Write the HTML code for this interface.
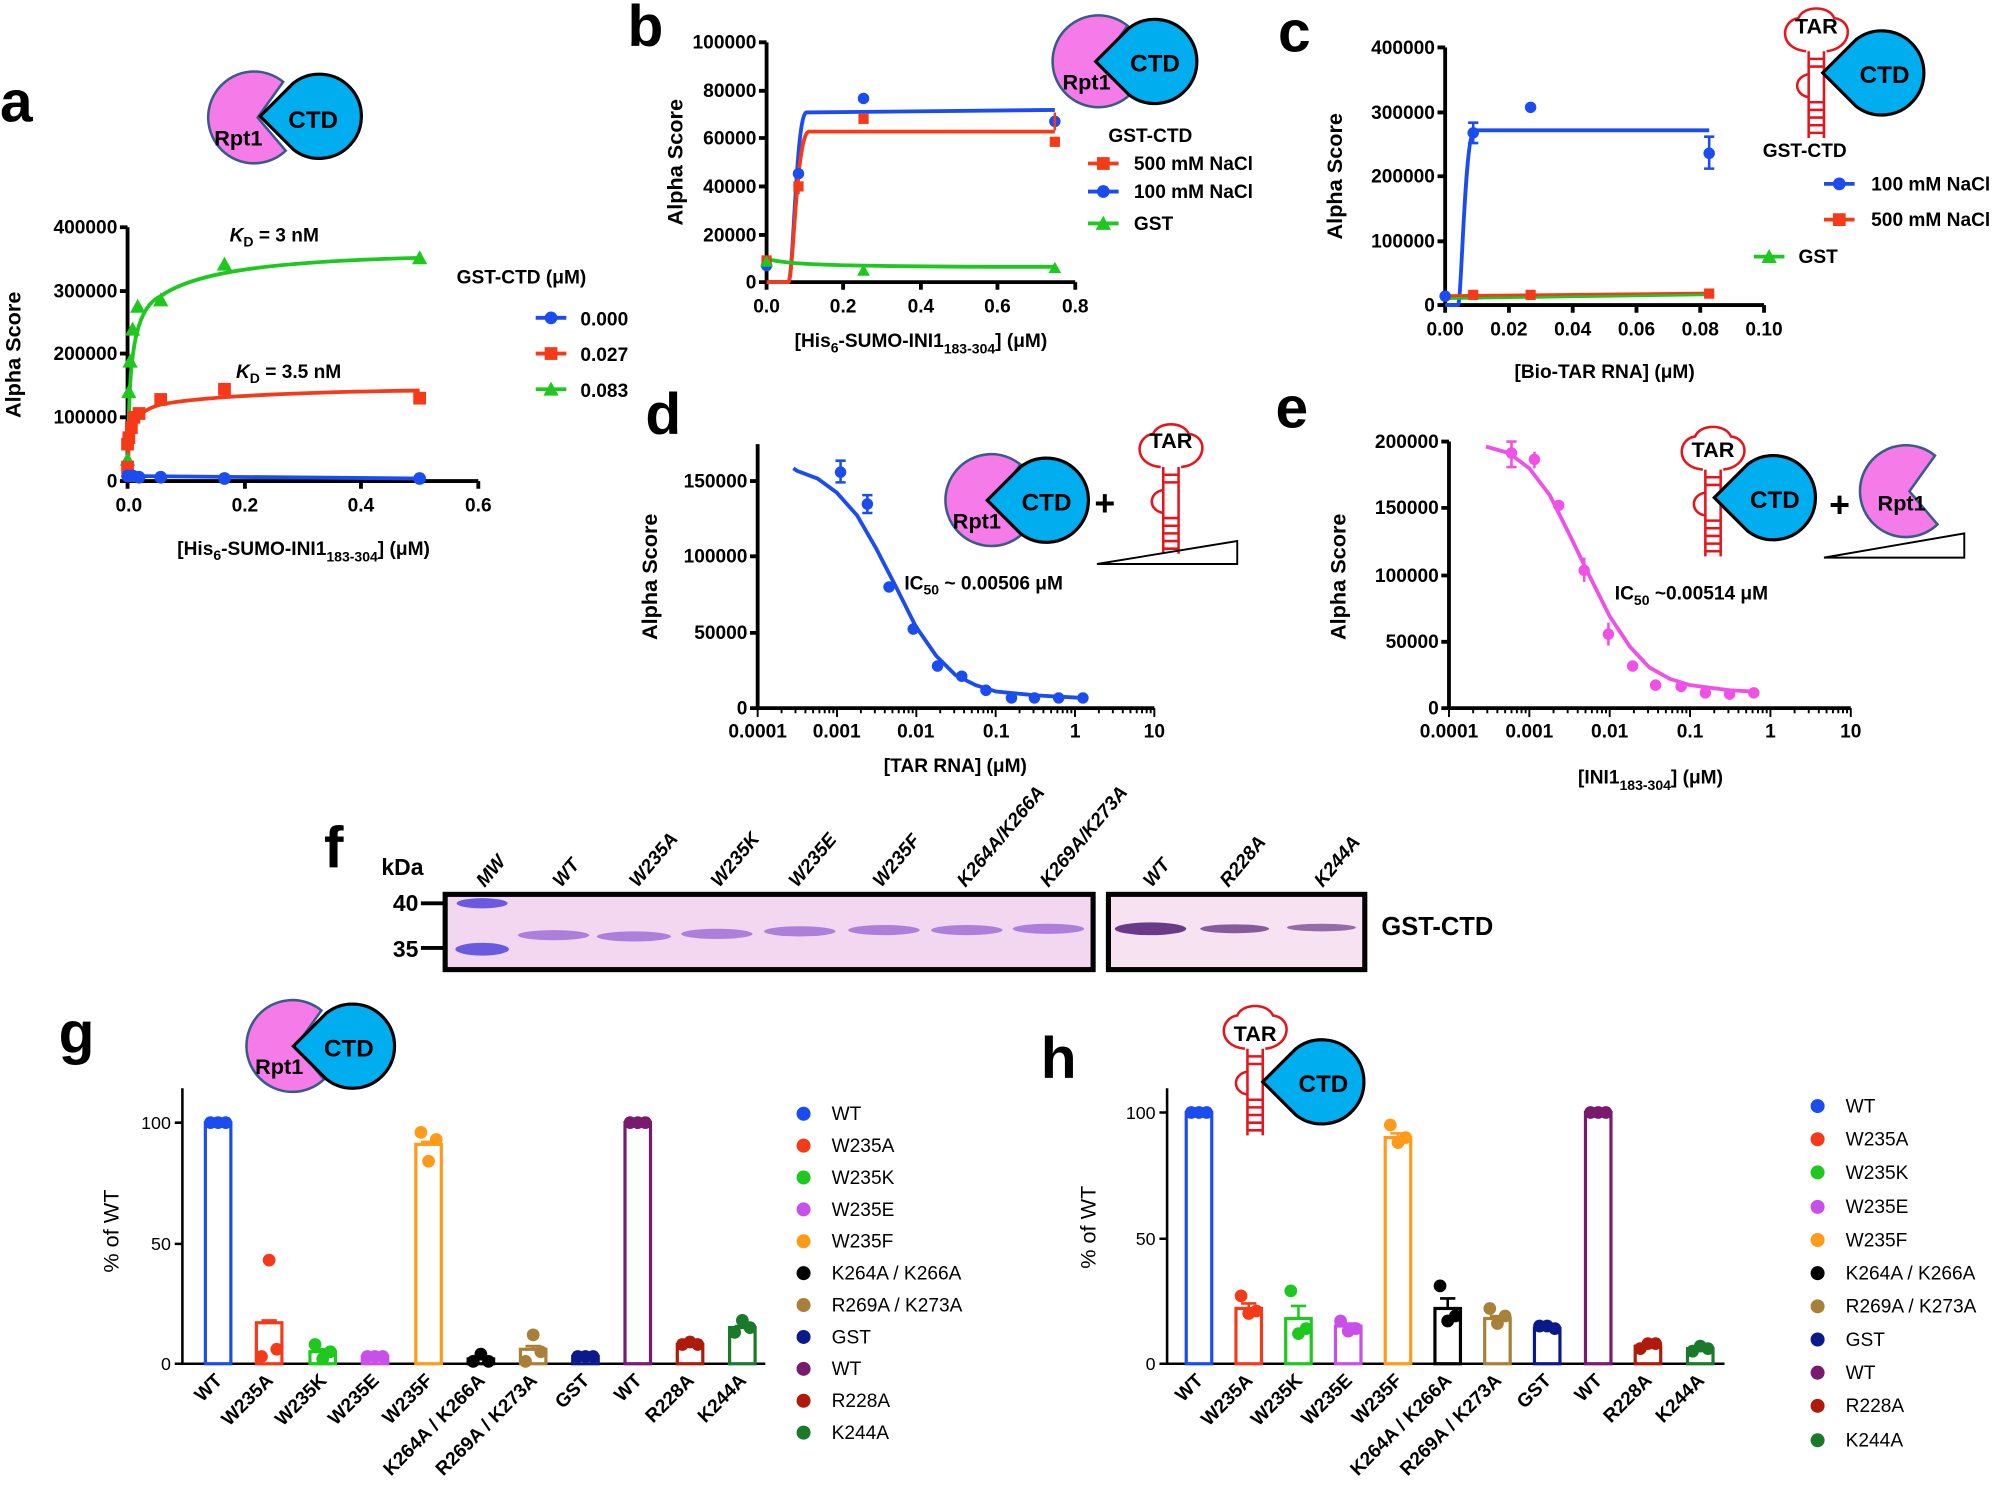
<!DOCTYPE html>
<html><head><meta charset="utf-8"><style>
html,body{margin:0;padding:0;background:#fff}
svg{display:block}
text{font-family:"Liberation Sans",Arial,sans-serif}
.t{font-size:15px;font-weight:bold}
.ax{stroke:#000;stroke-width:3;fill:none}
.L{font-size:46px;font-weight:bold}
.lg{font-size:15px}
</style></head><body>
<svg id="s" width="2000" height="1503" viewBox="0 0 1568 1178" xmlns="http://www.w3.org/2000/svg">
<defs>
<path id="pac" d="M22,-28 A36,36 0 1 0 24,26 L2,0 Z" fill="#f47be8" stroke="#3a5a8a" stroke-width="2"/>
<path id="ctd" d="M-46,0 L-20,-26 A33,33 0 1 1 -20,26 Z" fill="#00aeef" stroke="#000" stroke-width="2.5"/>
<g id="tar" fill="none" stroke="#e8141c" stroke-width="2">
<path d="M-8,22 C-30,20 -28,-2 -14,-4 C-10,-14 10,-14 14,-4 C30,-2 28,20 8,22"/>
<path d="M-6,22 V90 M6,22 V90 M-6,40 C-18,42 -18,56 -6,58"/>
<path d="M-6,28 H6 M-6,34 H6 M-6,62 H6 M-6,68 H6 M-6,74 H6 M-6,80 H6 M-6,86 H6"/>
</g>
</defs>

<text class="L" x="0" y="95">a</text>
<text class="L" x="492" y="36">b</text>
<text class="L" x="1002" y="40">c</text>
<text class="L" x="506" y="340">d</text>
<text class="L" x="1000" y="335">e</text>
<text class="L" x="254" y="680">f</text>
<text class="L" x="46" y="825">g</text>
<text class="L" x="816" y="845">h</text>

<!-- ===== a ===== -->
<use href="#pac" x="200" y="92"/><use href="#ctd" x="250" y="91"/>
<text x="168" y="114" style="font-size:17px;font-weight:bold">Rpt1</text>
<text x="226" y="100" style="font-size:19px;font-weight:bold">CTD</text>
<path class="ax" d="M100,178 V377 H375"/>
<path class="ax" d="M94,178H100M94,228H100M94,277H100M94,327H100M94,377H100M100,377V383M192,377V383M283,377V383M375,377V383" stroke-width="2"/>
<g class="t" text-anchor="end"><text x="92" y="183">400000</text><text x="92" y="233">300000</text><text x="92" y="282">200000</text><text x="92" y="332">100000</text><text x="92" y="382">0</text></g>
<g class="t" text-anchor="middle"><text x="101" y="401">0.0</text><text x="192" y="401">0.2</text><text x="283" y="401">0.4</text><text x="375" y="401">0.6</text></g>
<text class="t" x="238" y="435" text-anchor="middle">[His<tspan font-size="11" dy="4">6</tspan><tspan dy="-4">-SUMO-INI1</tspan><tspan font-size="11" dy="5">183-304</tspan><tspan dy="-5">] (μM)</tspan></text>
<text class="t" transform="translate(16,278) rotate(-90)" text-anchor="middle" style="font-size:17px">Alpha Score</text>
<text class="t" x="180" y="189"><tspan font-style="italic">K</tspan><tspan font-size="11" dy="4">D</tspan><tspan dy="-4"> = 3 nM</tspan></text>
<text class="t" x="185" y="296"><tspan font-style="italic">K</tspan><tspan font-size="11" dy="4">D</tspan><tspan dy="-4"> = 3.5 nM</tspan></text>
<path d="M100,377 L101,330 C102,270 108,240 126,232 C150,215 200,205 329,202" stroke="#1ec81e" stroke-width="3" fill="none"/>
<path d="M100,377 L101,345 C104,330 108,322 126,317 C160,310 250,307 329,306" stroke="#f53a1a" stroke-width="3" fill="none"/>
<path d="M100,373 L329,375" stroke="#1a4cf0" stroke-width="3" fill="none"/>
<g id="aPts"></g>
<text class="t" x="358" y="222">GST-CTD (μM)</text>
<path d="M420,249H444" stroke="#1a4cf0" stroke-width="3"/><circle cx="432" cy="249" r="5" fill="#1a4cf0"/>
<path d="M420,277H444" stroke="#f53a1a" stroke-width="3"/><rect x="427" y="272" width="10" height="10" fill="#f53a1a"/>
<path d="M420,305H444" stroke="#1ec81e" stroke-width="3"/><path d="M432,299 L438,310 H426Z" fill="#1ec81e"/>
<g class="t"><text x="455" y="255">0.000</text><text x="455" y="283">0.027</text><text x="455" y="311">0.083</text></g>

<!-- ===== b ===== -->
<use href="#pac" x="862" y="48"/><use href="#ctd" x="905" y="48"/>
<text x="833" y="70" style="font-size:17px;font-weight:bold">Rpt1</text>
<text x="886" y="56" style="font-size:19px;font-weight:bold">CTD</text>
<path class="ax" d="M601,33 V221 H843"/>
<path class="ax" stroke-width="2" d="M595,33H601M595,71H601M595,108H601M595,146H601M595,184H601M595,221H601M601,221V227M661,221V227M722,221V227M782,221V227M843,221V227"/>
<g class="t" text-anchor="end"><text x="593" y="38">100000</text><text x="593" y="76">80000</text><text x="593" y="113">60000</text><text x="593" y="151">40000</text><text x="593" y="189">20000</text><text x="593" y="226">0</text></g>
<g class="t" text-anchor="middle"><text x="601" y="245">0.0</text><text x="661" y="245">0.2</text><text x="722" y="245">0.4</text><text x="782" y="245">0.6</text><text x="843" y="245">0.8</text></g>
<text class="t" x="722" y="272" text-anchor="middle">[His<tspan font-size="11" dy="4">6</tspan><tspan dy="-4">-SUMO-INI1</tspan><tspan font-size="11" dy="5">183-304</tspan><tspan dy="-5">] (μM)</tspan></text>
<text class="t" transform="translate(535,127) rotate(-90)" text-anchor="middle" style="font-size:17px">Alpha Score</text>
<path d="M601,221 L618,221 C622,221 624,90 632,88 L827,86" stroke="#1a4cf0" stroke-width="3" fill="none"/>
<path d="M601,221 L618,221 C622,221 624,105 634,103 L827,103" stroke="#f53a1a" stroke-width="3" fill="none"/>
<path d="M601,203 C620,207 640,209 827,209" stroke="#1ec81e" stroke-width="3" fill="none"/>
<g fill="#1a4cf0"><circle cx="601" cy="208" r="4.5"/><circle cx="626" cy="136" r="4.5"/><circle cx="677" cy="77" r="4.5"/><circle cx="827" cy="95" r="4.5"/></g>
<g fill="#f53a1a"><rect x="597" y="200" width="8" height="8"/><rect x="622" y="142" width="8" height="8"/><rect x="673" y="89" width="8" height="8"/><rect x="823" y="107" width="8" height="8"/></g>
<g fill="#1ec81e"><path d="M601,200l5,9h-10z"/><path d="M677,207l5,9h-10z"/><path d="M827,205l5,9h-10z"/></g>
<path d="M626,140V152M827,88V102" stroke="#f53a1a" stroke-width="2"/>
<text class="t" x="869" y="111">GST-CTD</text>
<path d="M853,128H877" stroke="#f53a1a" stroke-width="3"/><rect x="860" y="123" width="10" height="10" fill="#f53a1a"/>
<path d="M853,150H877" stroke="#1a4cf0" stroke-width="3"/><circle cx="865" cy="150" r="5" fill="#1a4cf0"/>
<path d="M853,175H877" stroke="#1ec81e" stroke-width="3"/><path d="M865,169l6,11h-12z" fill="#1ec81e"/>
<g class="t"><text x="889" y="133">500 mM NaCl</text><text x="889" y="155">100 mM NaCl</text><text x="889" y="180">GST</text></g>

<!-- ===== c ===== -->
<use href="#tar" x="1424" y="18"/>
<text x="1424" y="26" text-anchor="middle" style="font-size:17px;font-weight:bold">TAR</text>
<use href="#ctd" x="1475" y="57"/>
<text x="1458" y="65" style="font-size:19px;font-weight:bold">CTD</text>
<path class="ax" d="M1133,37 V239 H1383"/>
<path class="ax" stroke-width="2" d="M1127,37H1133M1127,88H1133M1127,138H1133M1127,189H1133M1127,239H1133M1133,239V245M1183,239V245M1233,239V245M1283,239V245M1333,239V245M1383,239V245"/>
<g class="t" text-anchor="end"><text x="1125" y="42">400000</text><text x="1125" y="93">300000</text><text x="1125" y="143">200000</text><text x="1125" y="194">100000</text><text x="1125" y="244">0</text></g>
<g class="t" text-anchor="middle"><text x="1133" y="263">0.00</text><text x="1183" y="263">0.02</text><text x="1233" y="263">0.04</text><text x="1283" y="263">0.06</text><text x="1333" y="263">0.08</text><text x="1383" y="263">0.10</text></g>
<text class="t" x="1258" y="296" text-anchor="middle">[Bio-TAR RNA] (μM)</text>
<text class="t" transform="translate(1052,138) rotate(-90)" text-anchor="middle" style="font-size:17px">Alpha Score</text>
<path d="M1133,239 L1143,239 C1146,239 1148,104 1156,102 L1340,102" stroke="#1a4cf0" stroke-width="3" fill="none"/>
<path d="M1133,232 L1340,230" stroke="#f53a1a" stroke-width="3" fill="none"/>
<path d="M1133,234 L1340,231" stroke="#1ec81e" stroke-width="2" fill="none"/>
<g fill="#1a4cf0"><circle cx="1133" cy="232" r="4.5"/><circle cx="1155" cy="104" r="4.5"/><circle cx="1200" cy="84" r="4.5"/><circle cx="1340" cy="120" r="4.5"/></g>
<path d="M1155,96V112M1151,96H1159M1151,112H1159M1340,107V132M1336,107H1344M1336,132H1344" stroke="#1a4cf0" stroke-width="2"/>
<g fill="#f53a1a"><rect x="1151" y="227" width="8" height="8"/><rect x="1196" y="227" width="8" height="8"/><rect x="1336" y="226" width="8" height="8"/></g>
<text class="t" x="1382" y="123">GST-CTD</text>
<path d="M1430,144H1454" stroke="#1a4cf0" stroke-width="3"/><circle cx="1442" cy="144" r="5" fill="#1a4cf0"/>
<path d="M1430,172H1454" stroke="#f53a1a" stroke-width="3"/><rect x="1437" y="167" width="10" height="10" fill="#f53a1a"/>
<path d="M1375,201H1399" stroke="#1ec81e" stroke-width="3"/><path d="M1387,195l6,11h-12z" fill="#1ec81e"/>
<g class="t"><text x="1467" y="149">100 mM NaCl</text><text x="1467" y="177">500 mM NaCl</text><text x="1410" y="206">GST</text></g>

<!-- ===== d ===== -->
<use href="#pac" x="778" y="392"/><use href="#ctd" x="820" y="392"/>
<text x="747" y="414" style="font-size:17px;font-weight:bold">Rpt1</text>
<text x="801" y="400" style="font-size:19px;font-weight:bold">CTD</text>
<text x="858" y="404" style="font-size:28px;font-weight:bold">+</text>
<use href="#tar" x="918" y="344"/>
<text x="918" y="351" text-anchor="middle" style="font-size:17px;font-weight:bold">TAR</text>
<path d="M860,442 L970,424 V442 Z" fill="none" stroke="#000" stroke-width="1.5"/>
<path class="ax" d="M594,348 V555 H905"/>
<path class="ax" stroke-width="2" d="M588,377H594M588,436H594M588,496H594M588,555H594"/>
<g class="t" text-anchor="end"><text x="586" y="382">150000</text><text x="586" y="441">100000</text><text x="586" y="501">50000</text><text x="586" y="560">0</text></g>
<g id="dTicks"></g>
<g class="t" text-anchor="middle"><text x="594" y="578">0.0001</text><text x="656" y="578">0.001</text><text x="718" y="578">0.01</text><text x="781" y="578">0.1</text><text x="843" y="578">1</text><text x="905" y="578">10</text></g>
<text class="t" x="749" y="605" text-anchor="middle">[TAR RNA] (μM)</text>
<text class="t" transform="translate(515,452) rotate(-90)" text-anchor="middle" style="font-size:17px">Alpha Score</text>
<text class="t" x="709" y="462">IC<tspan font-size="11" dy="4">50</tspan><tspan dy="-4"> ~ 0.00506 μM</tspan></text>
<path d="M622,367 L625,369 L641,375 L656,386 L672,404 L687,430 L703,461 L718,491 L734,514 L749,529 L765,537 L781,542 L812,545 L849,547" stroke="#1a4cf0" stroke-width="3" fill="none"/>
<g fill="#1a4cf0"><circle cx="659" cy="370" r="4.5"/><circle cx="680" cy="395" r="4.5"/><circle cx="697" cy="460" r="4.5"/><circle cx="716" cy="493" r="4.5"/><circle cx="735" cy="522" r="4.5"/><circle cx="754" cy="530" r="4.5"/><circle cx="773" cy="541" r="4.5"/><circle cx="793" cy="547" r="4.5"/><circle cx="811" cy="547" r="4.5"/><circle cx="830" cy="547" r="4.5"/><circle cx="849" cy="547" r="4.5"/></g>
<path d="M659,361V378M655,361H663M655,378H663M680,388V402M676,388H684M676,402H684" stroke="#1a4cf0" stroke-width="2"/>

<!-- ===== e ===== -->
<use href="#tar" x="1343" y="346"/>
<text x="1343" y="358" text-anchor="middle" style="font-size:17px;font-weight:bold">TAR</text>
<use href="#ctd" x="1390" y="390"/>
<text x="1372" y="398" style="font-size:19px;font-weight:bold">CTD</text>
<text x="1434" y="405" style="font-size:28px;font-weight:bold">+</text>
<use href="#pac" x="1495" y="385"/>
<text x="1472" y="400" style="font-size:17px;font-weight:bold">Rpt1</text>
<path d="M1430,437 L1540,418 V437 Z" fill="none" stroke="#000" stroke-width="1.5"/>
<path class="ax" d="M1136,346 V555 H1451"/>
<path class="ax" stroke-width="2" d="M1130,346H1136M1130,398H1136M1130,451H1136M1130,503H1136M1130,555H1136"/>
<g class="t" text-anchor="end"><text x="1128" y="351">200000</text><text x="1128" y="403">150000</text><text x="1128" y="456">100000</text><text x="1128" y="508">50000</text><text x="1128" y="560">0</text></g>
<g id="eTicks"></g>
<g class="t" text-anchor="middle"><text x="1136" y="578">0.0001</text><text x="1199" y="578">0.001</text><text x="1262" y="578">0.01</text><text x="1325" y="578">0.1</text><text x="1388" y="578">1</text><text x="1451" y="578">10</text></g>
<text class="t" x="1294" y="614" text-anchor="middle">[INI1<tspan font-size="11" dy="5">183-304</tspan><tspan dy="-5">] (μM)</tspan></text>
<text class="t" transform="translate(1055,452) rotate(-90)" text-anchor="middle" style="font-size:17px">Alpha Score</text>
<text class="t" x="1266" y="470">IC<tspan font-size="11" dy="4">50</tspan><tspan dy="-4"> ~0.00514 μM</tspan></text>
<path d="M1165,350 L1183,355 L1199,367 L1215,388 L1230,418 L1246,451 L1262,483 L1278,507 L1293,523 L1309,532 L1325,537 L1356,541 L1375,542" stroke="#f050e6" stroke-width="3" fill="none"/>
<g fill="#f050e6"><circle cx="1185" cy="355" r="4.5"/><circle cx="1203" cy="360" r="4.5"/><circle cx="1222" cy="396" r="4.5"/><circle cx="1242" cy="447" r="4.5"/><circle cx="1261" cy="497" r="4.5"/><circle cx="1280" cy="522" r="4.5"/><circle cx="1298" cy="537" r="4.5"/><circle cx="1318" cy="538" r="4.5"/><circle cx="1337" cy="543" r="4.5"/><circle cx="1356" cy="544" r="4.5"/><circle cx="1375" cy="543" r="4.5"/></g>
<path d="M1185,346V366M1181,346H1189M1181,366H1189M1203,354V367M1242,437V456M1261,488V506" stroke="#f050e6" stroke-width="2"/>

<!-- ===== f gel ===== -->
<text class="t" x="299" y="686" style="font-size:18px">kDa</text>
<g class="t" style="font-size:18px" text-anchor="end"><text x="328" y="714">40</text><text x="328" y="750">35</text></g>
<path d="M330,708H348M330,743H348" stroke="#000" stroke-width="3"/>
<g class="t" style="font-size:15px;font-style:italic">
<text transform="translate(380,696) rotate(-50)">MW</text>
<text transform="translate(440,696) rotate(-50)">WT</text>
<text transform="translate(500,696) rotate(-50)">W235A</text>
<text transform="translate(564,696) rotate(-50)">W235K</text>
<text transform="translate(625,696) rotate(-50)">W235E</text>
<text transform="translate(691,696) rotate(-50)">W235F</text>
<text transform="translate(757,696) rotate(-50)">K264A/K266A</text>
<text transform="translate(822,696) rotate(-50)">K269A/K273A</text>
<text transform="translate(903,696) rotate(-50)">WT</text>
<text transform="translate(963,696) rotate(-50)">R228A</text>
<text transform="translate(1037,696) rotate(-50)">K244A</text>
</g>
<rect x="349" y="701" width="508" height="59" fill="#f3d6f0" stroke="#000" stroke-width="4"/>
<rect x="869" y="701" width="201" height="59" fill="#f6e2f0" stroke="#000" stroke-width="4"/>
<g fill="#6a5ae0"><ellipse cx="378" cy="708" rx="20" ry="4"/><ellipse cx="378" cy="744" rx="21" ry="5"/></g>
<g fill="#a070d8" opacity="0.85">
<ellipse cx="434" cy="733" rx="28" ry="4"/><ellipse cx="497" cy="734" rx="29" ry="4"/><ellipse cx="562" cy="732" rx="28" ry="4"/><ellipse cx="627" cy="730" rx="28" ry="4"/><ellipse cx="693" cy="729" rx="28" ry="4"/><ellipse cx="758" cy="729" rx="28" ry="4"/><ellipse cx="822" cy="728" rx="28" ry="4"/>
</g>
<g fill="#6a3a8a"><ellipse cx="902" cy="728" rx="28" ry="5"/><ellipse cx="968" cy="728" rx="27" ry="3.5" opacity="0.8"/><ellipse cx="1036" cy="727" rx="27" ry="3" opacity="0.7"/></g>
<text class="t" x="1083" y="733" style="font-size:20px">GST-CTD</text>

<!-- ===== g ===== -->
<use href="#pac" x="230" y="820"/><use href="#ctd" x="276" y="820"/>
<text x="200" y="842" style="font-size:17px;font-weight:bold">Rpt1</text>
<text x="254" y="828" style="font-size:19px;font-weight:bold">CTD</text>
<path d="M143,853 V1069 H600" stroke="#000" stroke-width="2" fill="none"/>
<path d="M137,880H143M137,975H143M137,1069H143" stroke="#000" stroke-width="2"/>
<g style="font-size:14px" text-anchor="end"><text x="134" y="885">100</text><text x="134" y="980">50</text><text x="134" y="1074">0</text></g>
<text transform="translate(93,965) rotate(-90)" text-anchor="middle" style="font-size:17px">% of WT</text>
<g id="gBars"></g>
<g class="t" text-anchor="end" style="font-size:15px">
<text transform="translate(175,1083) rotate(-45)">WT</text>
<text transform="translate(215,1083) rotate(-45)">W235A</text>
<text transform="translate(257,1083) rotate(-45)">W235K</text>
<text transform="translate(298,1083) rotate(-45)">W235E</text>
<text transform="translate(340,1083) rotate(-45)">W235F</text>
<text transform="translate(381,1083) rotate(-45)">K264A / K266A</text>
<text transform="translate(422,1083) rotate(-45)">R269A / K273A</text>
<text transform="translate(463,1083) rotate(-45)">GST</text>
<text transform="translate(504,1083) rotate(-45)">WT</text>
<text transform="translate(545,1083) rotate(-45)">R228A</text>
<text transform="translate(586,1083) rotate(-45)">K244A</text>
</g>
<g class="lg">
<text x="652" y="878">WT</text><text x="652" y="903">W235A</text><text x="652" y="928">W235K</text><text x="652" y="953">W235E</text><text x="652" y="978">W235F</text><text x="652" y="1003">K264A / K266A</text><text x="652" y="1028">R269A / K273A</text><text x="652" y="1053">GST</text><text x="652" y="1078">WT</text><text x="652" y="1103">R228A</text><text x="652" y="1128">K244A</text>
</g>
<g id="gLeg"></g>

<!-- ===== h ===== -->
<use href="#tar" x="984" y="800"/>
<text x="984" y="816" text-anchor="middle" style="font-size:17px;font-weight:bold">TAR</text>
<use href="#ctd" x="1036" y="848"/>
<text x="1018" y="856" style="font-size:19px;font-weight:bold">CTD</text>
<path d="M915,853 V1069 H1352" stroke="#000" stroke-width="2" fill="none"/>
<path d="M909,872H915M909,971H915M909,1069H915" stroke="#000" stroke-width="2"/>
<g style="font-size:14px" text-anchor="end"><text x="906" y="877">100</text><text x="906" y="976">50</text><text x="906" y="1074">0</text></g>
<text transform="translate(859,962) rotate(-90)" text-anchor="middle" style="font-size:17px">% of WT</text>
<g id="hBars"></g>
<g class="t" text-anchor="end" style="font-size:15px">
<text transform="translate(944,1083) rotate(-45)">WT</text>
<text transform="translate(983,1083) rotate(-45)">W235A</text>
<text transform="translate(1022,1083) rotate(-45)">W235K</text>
<text transform="translate(1061,1083) rotate(-45)">W235E</text>
<text transform="translate(1100,1083) rotate(-45)">W235F</text>
<text transform="translate(1139,1083) rotate(-45)">K264A / K266A</text>
<text transform="translate(1178,1083) rotate(-45)">R269A / K273A</text>
<text transform="translate(1217,1083) rotate(-45)">GST</text>
<text transform="translate(1257,1083) rotate(-45)">WT</text>
<text transform="translate(1296,1083) rotate(-45)">R228A</text>
<text transform="translate(1337,1083) rotate(-45)">K244A</text>
</g>
<g class="lg">
<text x="1447" y="872">WT</text><text x="1447" y="898">W235A</text><text x="1447" y="924">W235K</text><text x="1447" y="951">W235E</text><text x="1447" y="977">W235F</text><text x="1447" y="1003">K264A / K266A</text><text x="1447" y="1029">R269A / K273A</text><text x="1447" y="1055">GST</text><text x="1447" y="1081">WT</text><text x="1447" y="1107">R228A</text><text x="1447" y="1134">K244A</text>
</g>
<g id="hLeg"></g>
</svg>
<script>
var NS="http://www.w3.org/2000/svg";
function el(p,t,a){var e=document.createElementNS(NS,t);for(var k in a)e.setAttribute(k,a[k]);document.getElementById(p).appendChild(e);return e;}
function ticks(id,x0,dec,y0){var m=[.301,.477,.602,.699,.778,.845,.903,.954],d="";
for(var i=0;i<=5;i++){var x=x0+i*dec;d+="M"+x+","+y0+"V"+(y0+7);if(i<5)for(var j=0;j<8;j++){var xx=x+m[j]*dec;d+="M"+xx+","+y0+"V"+(y0+4);}}
el(id,"path",{d:d,stroke:"#000","stroke-width":1.5,fill:"none"});}
ticks("dTicks",594,62.2,555);ticks("eTicks",1136,63,555);
[[100,360],[101,307],[102,283],[104,258],[108,240],[126,235],[176,207],[329,202]].forEach(function(p){el("aPts","path",{d:"M"+p[0]+","+(p[1]-6)+"l6,11h-12z",fill:"#1ec81e"});});
[[100,366],[100,348],[101,343],[103,335],[105,327],[109,324],[126,313],[176,305],[329,312]].forEach(function(p){el("aPts","rect",{x:p[0]-5,y:p[1]-5,width:10,height:10,fill:"#f53a1a"});});
[[100,373],[104,373],[109,374],[126,374],[176,375],[329,375]].forEach(function(p){el("aPts","circle",{cx:p[0],cy:p[1],r:5,fill:"#1a4cf0"});});
var cols=["#1a4cf0","#f53a1a","#1ec81e","#c850e8","#ff9a1a","#000","#a8803a","#0a1a8a","#7a1a6e","#b01a0a","#1a7a2a"];
function bars(id,xs,vals,pts,y0,sc){xs.forEach(function(x,i){var h=vals[i]*sc;el(id,"rect",{x:x-10,y:y0-h,width:20,height:h,fill:"#fff",stroke:cols[i],"stroke-width":2.5});
var p=pts[i];[-6,0,6].forEach(function(o,k){el(id,"circle",{cx:x+o,cy:y0-p[k]*sc,r:5,fill:cols[i]});});
if(vals[i]<95){var e=Math.abs(p[0]-p[2])/3;el(id,"path",{d:"M"+x+","+(y0-(vals[i]+e)*sc)+"V"+(y0-vals[i]*sc)+"M"+(x-6)+","+(y0-(vals[i]+e)*sc)+"H"+(x+6),stroke:cols[i],"stroke-width":2});}});}
bars("gBars",[171,211,253,294,336,377,418,459,500,541,582],[100,17,5,3,91,2,6,3,100,8,15],
[[100,100,100],[3,43,6],[8,2,5],[3,3,3],[96,84,93],[1,4,1],[1,12,5],[3,3,3],[100,100,100],[8,9,8],[13,18,15]],1069,1.89);
bars("hBars",[940,979,1018,1057,1096,1135,1174,1213,1253,1292,1333],[100,22,18,15,90,22,18,14,100,7,6],
[[100,100,100],[27,20,21],[29,12,14],[17,13,14],[95,88,90],[31,17,19],[22,16,19],[15,15,14],[100,100,100],[6,8,8],[5,7,6]],1069,1.97);
function leg(id,x,ys){ys.forEach(function(y,i){el(id,"circle",{cx:x,cy:y-5,r:5.5,fill:cols[i]});});}
leg("gLeg",630,[878,903,928,953,978,1003,1028,1053,1078,1103,1128]);
leg("hLeg",1425,[872,898,924,951,977,1003,1029,1055,1081,1107,1134]);
</script>
</body></html>
